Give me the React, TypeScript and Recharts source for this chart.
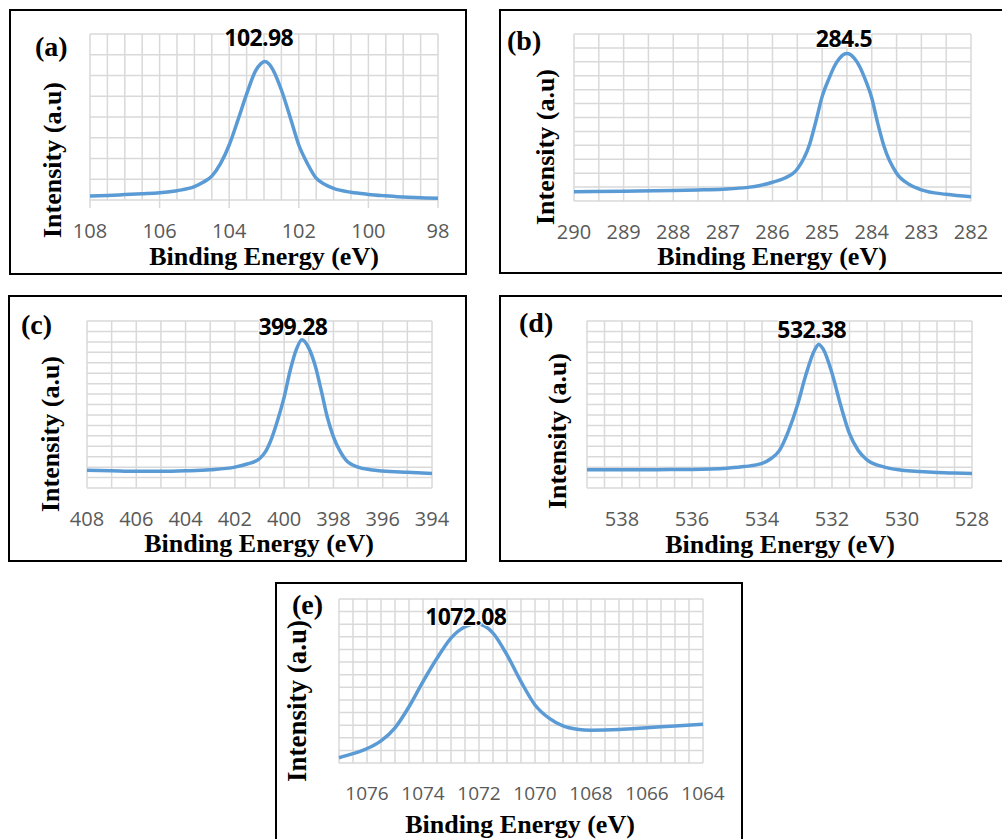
import { CartesianGrid, Line, LineChart, ReferenceDot, ReferenceLine, XAxis, YAxis } from "recharts";

const BLUE = "#5B9BD5";
const GRID = "#D9D9D9";
const TICK = "#595959";
const SERIF = '"Liberation Serif", "Times New Roman", serif';
const SANS = '"Open Sans", "Noto Sans", sans-serif';

// --- (a) ---------------------------------------------------------------------
const aEnergy = [108, 107.5, 107, 106.5, 106, 105.5, 105, 104.75, 104.5, 104.25, 104, 103.75, 103.5, 103.25, 103.1, 102.98, 102.85, 102.75, 102.5, 102.25, 102, 101.75, 101.5, 101.25, 101, 100.5, 100, 99.5, 99, 98.5, 98];
const aIntensity = [0.19, 0.22, 0.26, 0.3, 0.35, 0.45, 0.64, 0.85, 1.15, 1.75, 2.65, 3.85, 5.1, 6.2, 6.55, 6.68, 6.55, 6.3, 5.3, 4.0, 2.65, 1.75, 1.05, 0.75, 0.56, 0.37, 0.27, 0.2, 0.14, 0.11, 0.08];
const aTicks = [108, 106, 104, 102, 100, 98];

// --- (b) ---------------------------------------------------------------------
const bEnergy = [290, 289, 288, 287.5, 287, 286.5, 286.25, 286, 285.75, 285.5, 285.25, 285.12, 285, 284.85, 284.75, 284.65, 284.5, 284.35, 284.25, 284.15, 284, 283.88, 283.75, 283.5, 283.25, 283, 282.5, 282];
const bIntensity = [0.67, 0.7, 0.75, 0.79, 0.85, 0.98, 1.12, 1.35, 1.65, 2.3, 4.1, 5.8, 7.5, 8.9, 9.7, 10.25, 10.6, 10.25, 9.7, 8.9, 7.4, 5.6, 3.9, 2.0, 1.2, 0.8, 0.48, 0.31];
const bTicks = [290, 289, 288, 287, 286, 285, 284, 283, 282];

// --- (c) ---------------------------------------------------------------------
const cEnergy = [408, 407, 406, 405, 404, 403, 402, 401.5, 401, 400.75, 400.5, 400.25, 400, 399.75, 399.5, 399.28, 399, 398.75, 398.5, 398.25, 398, 397.75, 397.5, 397, 396.5, 396, 395, 394];
const cIntensity = [1.7, 1.65, 1.6, 1.6, 1.65, 1.75, 2.0, 2.3, 2.8, 3.5, 4.8, 6.6, 8.7, 11.3, 13.3, 14.2, 13.4, 11.8, 9.4, 6.8, 4.9, 3.6, 2.7, 2.0, 1.75, 1.62, 1.5, 1.4];
const cTicks = [408, 406, 404, 402, 400, 398, 396, 394];

// --- (d) ---------------------------------------------------------------------
const dEnergy = [539, 538, 537, 536, 535, 534.5, 534, 533.75, 533.5, 533.25, 533, 532.75, 532.5, 532.38, 532.25, 532, 531.75, 531.5, 531.25, 531, 530.5, 530, 529.5, 529, 528.5, 528];
const dIntensity = [1.76, 1.76, 1.76, 1.78, 1.9, 2.05, 2.35, 2.8, 3.6, 5.4, 7.8, 10.8, 13.2, 13.76, 13.3, 11.0, 7.9, 5.2, 3.6, 2.7, 2.0, 1.7, 1.57, 1.48, 1.43, 1.4];
const dTicks = [538, 536, 534, 532, 530, 528];

// --- (e) ---------------------------------------------------------------------
const eEnergy = [1077, 1076.5, 1076, 1075.5, 1075, 1074.5, 1074, 1073.5, 1073, 1072.5, 1072.08, 1071.5, 1071, 1070.5, 1070, 1069.5, 1069, 1068.5, 1068, 1067, 1066, 1065, 1064];
const eIntensity = [0.42, 0.74, 1.14, 1.75, 2.79, 4.46, 6.45, 8.3, 9.9, 10.8, 11.03, 10.3, 8.57, 6.45, 4.6, 3.55, 2.94, 2.68, 2.6, 2.65, 2.79, 2.94, 3.08];
const eTicks = [1076, 1074, 1072, 1070, 1068, 1066, 1064];

const steps = (lo: number, hi: number, step: number) => {
  const out: number[] = [];
  for (let v = lo; v <= hi + 1e-9; v += step) out.push(Math.round(v * 100) / 100);
  return out;
};

type Rect = { x: number; y: number; w: number; h: number };

type Panel = {
  tag: string;
  energy: number[];
  intensity: number[];
  peak: number;
  domain: [number, number];
  labels: number[];
  gridStep: number;
  rows: number;
  box: Rect;
  plot: Rect;
  tickFont: number;
  tickMarks?: boolean;
  peakOffset: [number, number];
  letter: [number, number];
  xTitle: [number, number];
  yTitle: [number, number];
  yTitleSize?: number;
};

const panels: Panel[] = [
  {
    tag: "(a)", energy: aEnergy, intensity: aIntensity, peak: 102.98, domain: [98, 108], labels: aTicks,
    gridStep: 0.5, rows: 8, box: { x: 10, y: 10, w: 456, h: 264 }, plot: { x: 90, y: 34, w: 348, h: 166 },
    tickFont: 20, tickMarks: true, peakOffset: [-6, -15], letter: [35, 56], xTitle: [264, 265], yTitle: [61, 160],
  },
  {
    tag: "(b)", energy: bEnergy, intensity: bIntensity, peak: 284.5, domain: [282, 290], labels: bTicks,
    gridStep: 0.5, rows: 12, box: { x: 500, y: 10, w: 520, h: 263 }, plot: { x: 574, y: 34, w: 397, h: 167 },
    tickFont: 20, peakOffset: [-3, -6], letter: [507, 50], xTitle: [772, 265], yTitle: [554, 147],
  },
  {
    tag: "(c)", energy: cEnergy, intensity: cIntensity, peak: 399.28, domain: [394, 408], labels: cTicks,
    gridStep: 1, rows: 16, box: { x: 9, y: 296, w: 457, h: 265 }, plot: { x: 87, y: 321, w: 345, h: 167 },
    tickFont: 20, peakOffset: [-9, -5], letter: [21, 334], xTitle: [259, 552], yTitle: [59, 434],
  },
  {
    tag: "(d)", energy: dEnergy, intensity: dIntensity, peak: 532.38, domain: [528, 539], labels: dTicks,
    gridStep: 0.5, rows: 16, box: { x: 500, y: 296, w: 520, h: 265 }, plot: { x: 587, y: 321, w: 385, h: 167 },
    tickFont: 20, peakOffset: [-7, -6], letter: [519, 332], xTitle: [780, 553], yTitle: [566, 431],
  },
  {
    tag: "(e)", energy: eEnergy, intensity: eIntensity, peak: 1072.08, domain: [1064, 1077], labels: eTicks,
    gridStep: 0.5, rows: 13, box: { x: 276, y: 583, w: 466, h: 280 }, plot: { x: 339, y: 599, w: 364, h: 164 },
    tickFont: 19, peakOffset: [-11, 1], letter: [292, 614], xTitle: [520, 833], yTitle: [306, 701], yTitleSize: 27,
  },
];

const M = 30;
const AXIS_H = 60;

function EnergyTick(props: any) {
  const { x, y, payload, labels, fontSize, marks } = props;
  const v = payload.value as number;
  if (!labels.some((l: number) => Math.abs(l - v) < 1e-6)) return <g />;
  return (
    <g>
      {marks && <line x1={x} x2={x} y1={y - 24} y2={y - 16} stroke={GRID} strokeWidth={1.5} />}
      <text x={x} y={y} dy="0.71em" textAnchor="middle" fill={TICK} fontSize={fontSize} fontFamily={SANS}>
        {v}
      </text>
    </g>
  );
}

function Spectrum({ p }: { p: Panel }) {
  const data = p.energy.map((e, i) => ({ e, i: p.intensity[i] }));
  const peakI = p.intensity[p.energy.indexOf(p.peak)];
  const grid = steps(p.domain[0], p.domain[1], p.gridStep);
  const rowLines = steps(0, p.rows, 1);
  return (
    <div style={{ position: "absolute", left: p.plot.x - M, top: p.plot.y - M }}>
      <LineChart
        width={p.plot.w + 2 * M}
        height={p.plot.h + AXIS_H + 2 * M}
        data={data}
        margin={{ top: M, right: M, bottom: M, left: M }}
      >
        <CartesianGrid stroke={GRID} strokeWidth={1.5} horizontal={false} />
        <XAxis
          dataKey="e"
          type="number"
          domain={p.domain}
          reversed
          ticks={grid}
          interval={0}
          height={AXIS_H}
          axisLine={false}
          tickLine={false}
          tickSize={8}
          tickMargin={16}
          tick={(t: any) => <EnergyTick {...t} labels={p.labels} fontSize={p.tickFont} marks={p.tickMarks} />}
        />
        <YAxis type="number" domain={[0, p.rows]} width={0} tick={false} axisLine={false} tickLine={false} />
        {rowLines.map((v) => (
          <ReferenceLine key={v} y={v} stroke={GRID} strokeWidth={1.5} />
        ))}
        <Line type="monotone" dataKey="i" stroke={BLUE} strokeWidth={3.5} dot={false} isAnimationActive={false} />
        <ReferenceDot
          x={p.peak}
          y={peakI}
          r={0}
          fill="none"
          stroke="none"
          label={(lp: any) => {
            const vb = lp.viewBox;
            return (
              <text
                x={vb.x + vb.width / 2 + p.peakOffset[0]}
                y={vb.y + vb.height / 2 + p.peakOffset[1]}
                textAnchor="middle"
                fontFamily={SANS}
                fontWeight={700}
                fontSize={23}
                letterSpacing={-0.6}
                fill="#000"
                stroke="#fff"
                strokeWidth={2}
                paintOrder="stroke"
              >
                {p.peak}
              </text>
            );
          }}
        />
      </LineChart>
    </div>
  );
}

export default function App() {
  return (
    <div style={{ position: "absolute", left: 0, top: 0, width: 1002, height: 839, background: "#fff", overflow: "hidden" }}>
      {panels.map((p) => (
        <Spectrum key={p.tag} p={p} />
      ))}
      <svg width={1002} height={839} style={{ position: "absolute", left: 0, top: 0, pointerEvents: "none" }}>
        {panels.map((p) => (
          <g key={p.tag} fontFamily={SERIF} fontWeight={700} fill="#000">
            <rect x={p.box.x} y={p.box.y} width={p.box.w} height={p.box.h} fill="none" stroke="#000" strokeWidth={2} />
            <text x={p.letter[0]} y={p.letter[1]} fontSize={28}>
              {p.tag}
            </text>
            <text x={p.xTitle[0]} y={p.xTitle[1]} fontSize={26} textAnchor="middle">
              Binding Energy (eV)
            </text>
            <text
              x={p.yTitle[0]}
              y={p.yTitle[1]}
              fontSize={p.yTitleSize ?? 26}
              textAnchor="middle"
              transform={`rotate(-90 ${p.yTitle[0]} ${p.yTitle[1]})`}
            >
              Intensity (a.u)
            </text>
          </g>
        ))}
      </svg>
    </div>
  );
}
